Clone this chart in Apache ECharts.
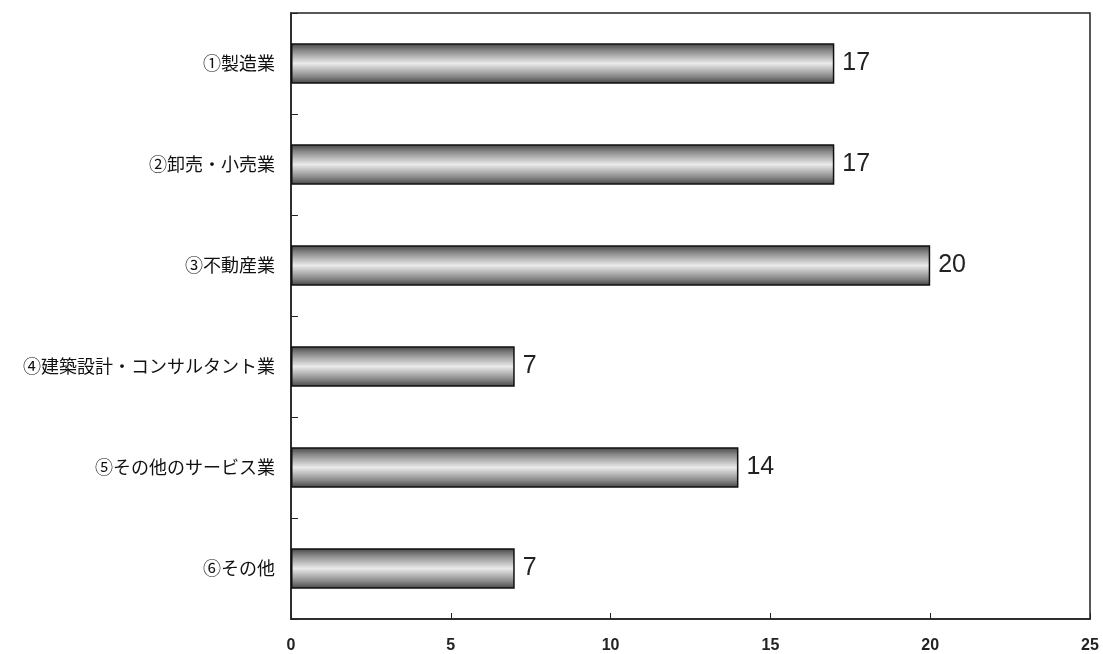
<!DOCTYPE html>
<html>
<head>
<meta charset="utf-8">
<script src="https://cdn.jsdelivr.net/npm/echarts@6/dist/echarts.min.js"></script>
<style>
  html, body { margin: 0; padding: 0; background: #fff; }
  #chart { width: 1103px; height: 654px; }
</style>
</head>
<body>
<div id="chart"></div>
<script>
// 業種ごとの件数
const categories = [
  '①製造業',
  '②卸売・小売業',
  '③不動産業',
  '④建築設計・コンサルタント業',
  '⑤その他のサービス業',
  '⑥その他'
]
const counts = [17, 17, 20, 7, 14, 7]
const xTicks = [0, 5, 10, 15, 20, 25]

const fontJa = '"Noto Sans CJK JP", "Liberation Sans", sans-serif'
const fontNum = '"Liberation Sans", Arial, sans-serif'

// 円柱っぽいグラデーション
const barFill = new echarts.graphic.LinearGradient(0, 0, 0, 1, [
  { offset: 0, color: '#444' },
  { offset: 0.18, color: '#888' },
  { offset: 0.5, color: '#eaeaea' },
  { offset: 0.82, color: '#888' },
  { offset: 1, color: '#444' }
])

const option = {
  backgroundColor: '#fff',
  animation: false,
  grid: {
    left: 291,
    right: 13,
    top: 13,
    bottom: 35,
    show: true,
    borderColor: '#222',
    borderWidth: 1.5
  },
  xAxis: {
    type: 'value',
    min: xTicks[0],
    max: xTicks[xTicks.length - 1],
    interval: 5,
    splitLine: { show: false },
    axisLine: { show: true, lineStyle: { color: '#222', width: 1.5 } },
    axisTick: { show: true, inside: true, length: 6, lineStyle: { color: '#222', width: 1 } },
    axisLabel: {
      margin: 19,
      fontSize: 16,
      fontWeight: 'bold',
      fontFamily: fontNum,
      color: '#222'
    }
  },
  yAxis: {
    type: 'category',
    inverse: true,
    data: categories,
    axisLine: { show: true, lineStyle: { color: '#222', width: 1.5 } },
    axisTick: { show: true, inside: true, length: 7, lineStyle: { color: '#222' } },
    axisLabel: {
      margin: 16,
      fontSize: 18,
      fontFamily: fontJa,
      color: '#111'
    }
  },
  series: [
    {
      type: 'bar',
      data: counts,
      barWidth: '40%',
      itemStyle: {
        color: barFill,
        borderColor: '#111',
        borderWidth: 1.5
      },
      label: {
        show: true,
        position: 'right',
        distance: 8,
        fontSize: 25,
        fontFamily: fontNum,
        color: '#222'
      }
    }
  ]
}

const chart = echarts.init(document.getElementById('chart'))
chart.setOption(option)
</script>
</body>
</html>
